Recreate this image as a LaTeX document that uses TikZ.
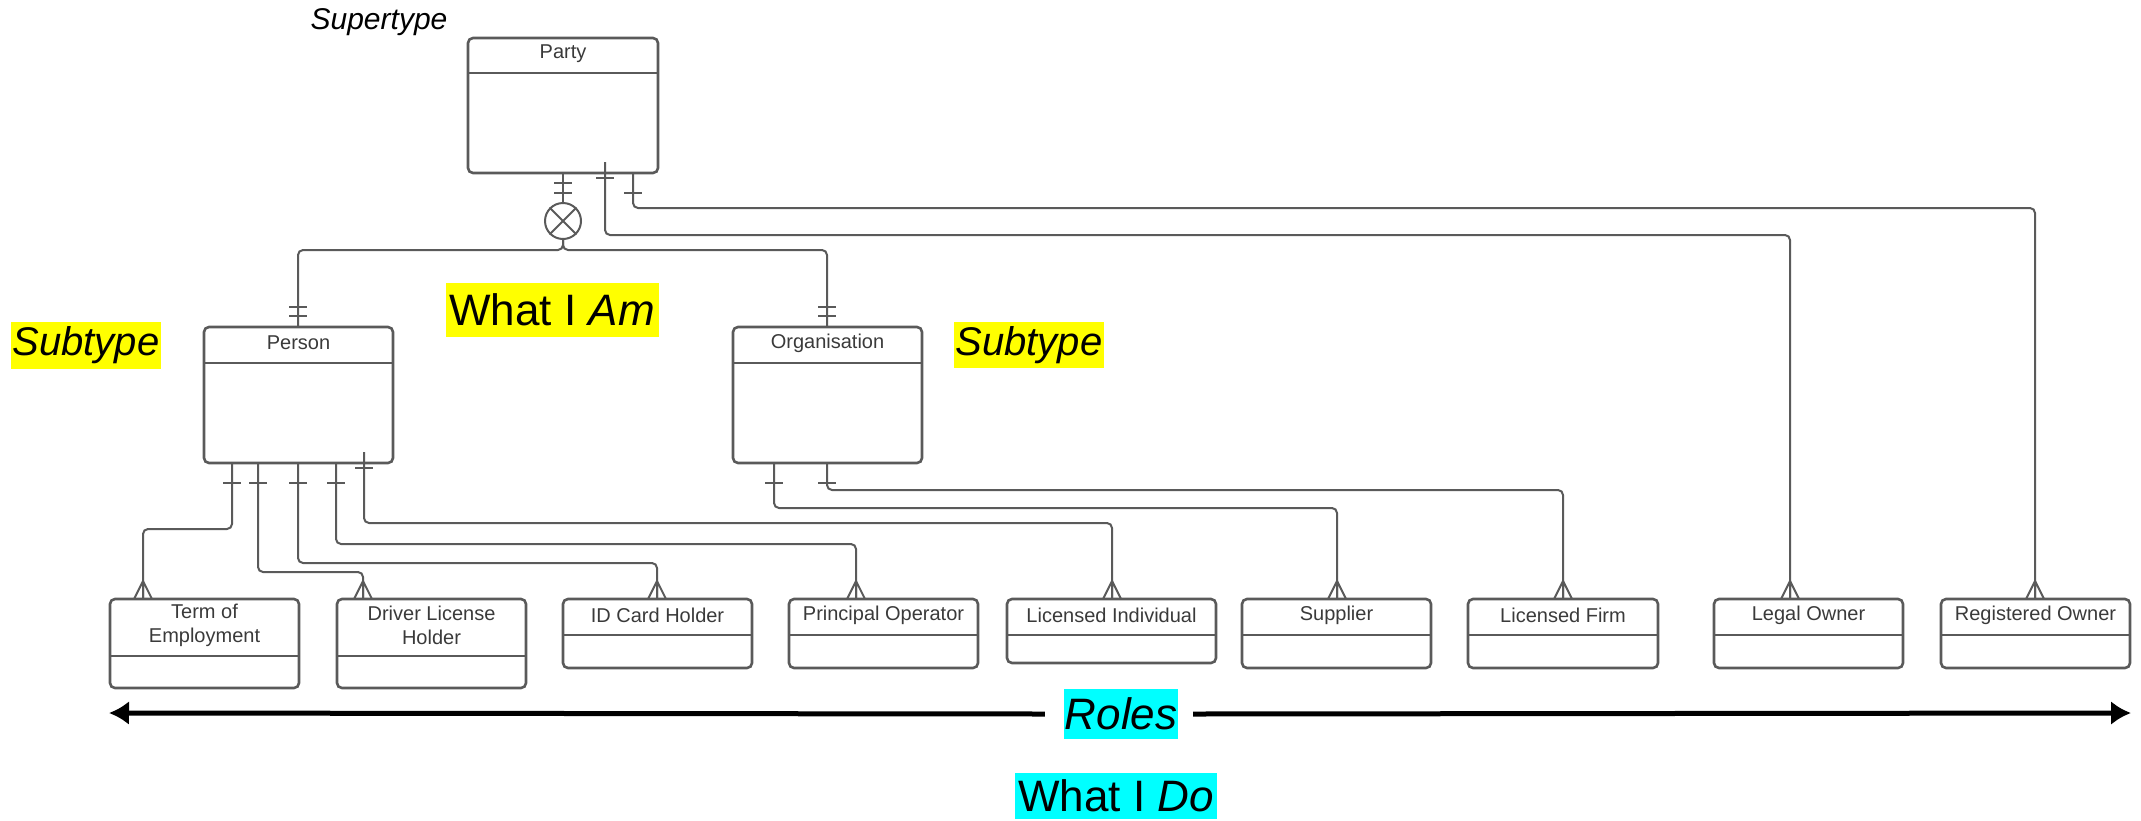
\documentclass[tikz,border=0pt]{standalone}
\usepackage{fontspec}
\setmainfont{Liberation Sans}
\usetikzlibrary{arrows.meta,calc}
\definecolor{ln}{HTML}{5A5A5A}
\definecolor{tx}{HTML}{3A3A3A}
\definecolor{hy}{HTML}{FFFF00}
\definecolor{hc}{HTML}{00FFFF}
\newcommand{\ermbox}[7]{%
  \node[entbox, minimum width={#4-#2}, minimum height={#5-#3}] (#1) at ({(#2+#4)/2},{(#3+#5)/2}) {};
  \draw[entline] (#2,#6) -- (#4,#6);
  \node[enttext] (#1-t) at ({(#2+#4)/2},{(#3+#6)/2-2}) {#7};
}
\newcommand{\ctick}[2]{\draw[tick] ({#1-9},#2) -- ({#1+9},#2);}
\newcommand{\cfoot}[2]{%
  \draw[tick] ($(#1.north -| #2,0)+(0,-18)$) coordinate (cf) -- ($(cf)+(-9,18)$)
     (cf) -- ($(cf)+(0,18)$) (cf) -- ($(cf)+(9,18)$);
}
\begin{document}
\begin{tikzpicture}[x=1pt,y=-1pt,
  entbox/.style={draw=ln, line width=2.6pt, rounded corners=5pt, inner sep=0pt, outer sep=0pt},
  entline/.style={draw=ln, line width=2.6pt},
  enttext/.style={text=tx, font=\fontsize{20}{24}\selectfont, align=center, inner sep=0pt},
  conn/.style={draw=ln, line width=2pt, rounded corners=5pt},
  tick/.style={draw=ln, line width=2pt},
  hl/.style={inner sep=0pt, font=\fontsize{44}{50}\selectfont},
]
\useasboundingbox (0,0) rectangle (2141,820);

% entities
\ermbox{party}{468}{38}{658}{173}{73}{Party}
\ermbox{person}{204}{327}{393}{463}{363}{Person}
\ermbox{org}{733}{327}{922}{463}{363}{Organisation}
\ermbox{term}{110}{599}{299}{688}{656}{Term of\\Employment}
\ermbox{dlh}{337}{599}{526}{688}{656}{Driver License\\Holder}
\ermbox{idc}{563}{599}{752}{668}{635}{ID Card Holder}
\ermbox{po}{789}{599}{978}{668}{635}{Principal Operator}
\ermbox{li}{1007}{599}{1216}{663}{635}{Licensed Individual}
\ermbox{sup}{1242}{599}{1431}{668}{635}{Supplier}
\ermbox{lf}{1468}{599}{1658}{668}{635}{Licensed Firm}
\ermbox{lo}{1714}{599}{1903}{668}{635}{Legal Owner}
\ermbox{ro}{1941}{599}{2130}{668}{635}{Registered Owner}

% exclusive subtype circle
\node[draw=ln, line width=2pt, circle, minimum size=36pt, inner sep=0pt] (circ) at (563,221) {};
\draw[tick] (circ.north west) -- (circ.south east) (circ.north east) -- (circ.south west);

% supertype -> subtypes
\draw[conn] (party.south -| 563,0) -- (circ.north);
\ctick{563}{183}\ctick{563}{193}
\draw[conn] (circ.south) |- (298,250) -- (person.north -| 298,0);
\ctick{298}{307}\ctick{298}{316}
\draw[conn] (circ.south) |- (827,250) -- (org.north -| 827,0);
\ctick{827}{307}\ctick{827}{316}

% party -> roles
\draw[conn] ($(party.south -| 605,0)+(0,-11)$) |- (1790,235) -- (lo.north -| 1790,0);
\ctick{605}{178}
\draw[conn] (party.south -| 633,0) |- (2035,208) -- (ro.north -| 2035,0);
\ctick{633}{193}

% person -> roles
\draw[conn] (person.south -| 232,0) |- (143,529) -- (term.north -| 143,0); \ctick{232}{483}
\draw[conn] (person.south -| 258,0) |- (363,572) -- (dlh.north -| 363,0); \ctick{258}{483}
\draw[conn] (person.south -| 298,0) |- (657,563) -- (idc.north -| 657,0); \ctick{298}{483}
\draw[conn] (person.south -| 336,0) |- (856,544) -- (po.north -| 856,0); \ctick{336}{483}
\draw[conn] ($(person.south -| 364,0)+(0,-11)$) |- (1112,523) -- (li.north -| 1112,0); \ctick{364}{468}

% organisation -> roles
\draw[conn] (org.south -| 774,0) |- (1337,508) -- (sup.north -| 1337,0); \ctick{774}{483}
\draw[conn] (org.south -| 827,0) |- (1563,490) -- (lf.north -| 1563,0); \ctick{827}{483}

% crow's feet
\cfoot{term}{143}\cfoot{dlh}{363}\cfoot{idc}{657}\cfoot{po}{856}\cfoot{li}{1112}
\cfoot{sup}{1337}\cfoot{lf}{1563}\cfoot{lo}{1790}\cfoot{ro}{2035}

% annotations
\node[inner sep=0pt, font=\fontsize{30}{36}\selectfont\itshape] (super) at (379,22) {Supertype};
\node[hl, fill=hy, minimum width=150pt, minimum height=47pt, font=\fontsize{40}{46}\selectfont\itshape] (sub1) at (86,345) {Subtype};
\node[hl, fill=hy, minimum width=150pt, minimum height=46pt, font=\fontsize{40}{46}\selectfont\itshape] (sub2) at (1029,345) {Subtype};
\node[hl, fill=hy, minimum width=213pt, minimum height=54pt] (am) at (552,310) {What I \textit{Am}};
\node[hl, fill=hc, minimum width=202pt, minimum height=46pt] (do) at (1116,796) {What I \textit{Do}};
\node[hl, fill=hc, minimum width=114pt, minimum height=50pt] (roles) at (1121,714) {\itshape Roles};
\coordinate (al) at (109,713);
\coordinate (ar) at (2131,713);
\draw[line width=5pt, {Latex[length=20pt,width=24pt]}-] (al) -- ([xshift=-19pt]roles.west);
\draw[line width=5pt, -{Latex[length=20pt,width=24pt]}] ([xshift=15pt]roles.east) -- (ar);
\end{tikzpicture}
\end{document}
